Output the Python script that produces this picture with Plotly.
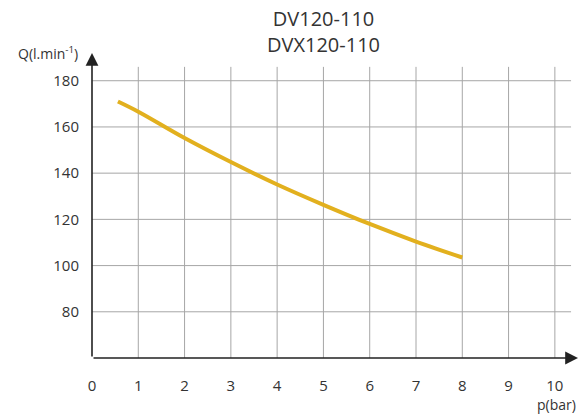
import plotly.graph_objects as go

# data
pressure_bar = [0.56, 1, 2, 3, 4, 5, 6, 7, 8]
flow_lmin = [171.0, 166.6, 155.2, 144.8, 135.1, 126.3, 118.0, 110.4, 103.5]
x_ticks = [0, 1, 2, 3, 4, 5, 6, 7, 8, 9, 10]
y_ticks = [80, 100, 120, 140, 160, 180]
title_lines = ["DV120-110", "DVX120-110"]

X_MAX, Y_MIN, Y_MAX = 10.5, 60, 192
GRID_X_END, GRID_Y_END = 10.35, 186
FONT = "Open Sans"
TXT = "#333333"

fig = go.Figure()
fig.add_trace(go.Scatter(
    x=pressure_bar, y=flow_lmin, mode="lines",
    line=dict(color="#E2B01E", width=4, shape="spline", smoothing=1),
    hoverinfo="skip", showlegend=False))

shapes = []
for xv in x_ticks[1:]:
    shapes.append(dict(type="line", xref="x", yref="y", x0=xv, x1=xv, y0=Y_MIN, y1=GRID_Y_END,
                       line=dict(color="#A6A6A6", width=1), layer="below"))
for yv in y_ticks:
    shapes.append(dict(type="line", xref="x", yref="y", x0=0, x1=GRID_X_END, y0=yv, y1=yv,
                       line=dict(color="#A6A6A6", width=1), layer="below"))

annotations = [
    # axis arrows
    dict(x=X_MAX, y=Y_MIN, ax=0, ay=Y_MIN, xref="x", yref="y", axref="x", ayref="y",
         showarrow=True, arrowhead=2, arrowsize=1.6, arrowwidth=1.6, arrowcolor="#222222", text=""),
    dict(x=0, y=Y_MAX, ax=0, ay=Y_MIN, xref="x", yref="y", axref="x", ayref="y",
         showarrow=True, arrowhead=2, arrowsize=1.6, arrowwidth=1.6, arrowcolor="#222222", text=""),
    dict(x=5, y=0.99, xref="x", yref="paper", xanchor="center", yanchor="bottom", yshift=-4,
         text="<br>".join(title_lines), showarrow=False,
         font=dict(family=FONT, size=20, color=TXT)),
    dict(x=-12 / 486, y=1.0, xref="paper", yref="paper", xanchor="right", yanchor="middle",
         text="Q(l.min<sup>-1</sup>)", showarrow=False,
         font=dict(family=FONT, size=14, color=TXT)),
    dict(x=1, y=-0.154, xref="paper", yref="paper", xanchor="right", yanchor="middle",
         text="p(bar)", showarrow=False,
         font=dict(family=FONT, size=14, color=TXT)),
]

fig.update_layout(
    width=578, height=414,
    margin=dict(l=92, r=0, t=53, b=56),
    paper_bgcolor="white", plot_bgcolor="white",
    shapes=shapes, annotations=annotations,
    xaxis=dict(range=[0, X_MAX], tickvals=x_ticks, ticktext=[str(v) for v in x_ticks],
               showgrid=False, zeroline=False, showline=False,
               ticks="outside", ticklen=14, tickcolor="rgba(0,0,0,0)",
               tickfont=dict(family=FONT, size=15, color=TXT)),
    yaxis=dict(range=[Y_MIN, Y_MAX], tickvals=y_ticks, ticktext=[str(v) for v in y_ticks],
               showgrid=False, zeroline=False, showline=False,
               ticks="outside", ticklen=9, tickcolor="rgba(0,0,0,0)",
               tickfont=dict(family=FONT, size=15, color=TXT)),
)

fig.write_html("out.html", config={"displayModeBar": False},
               post_script="document.body.style.margin='0';")
